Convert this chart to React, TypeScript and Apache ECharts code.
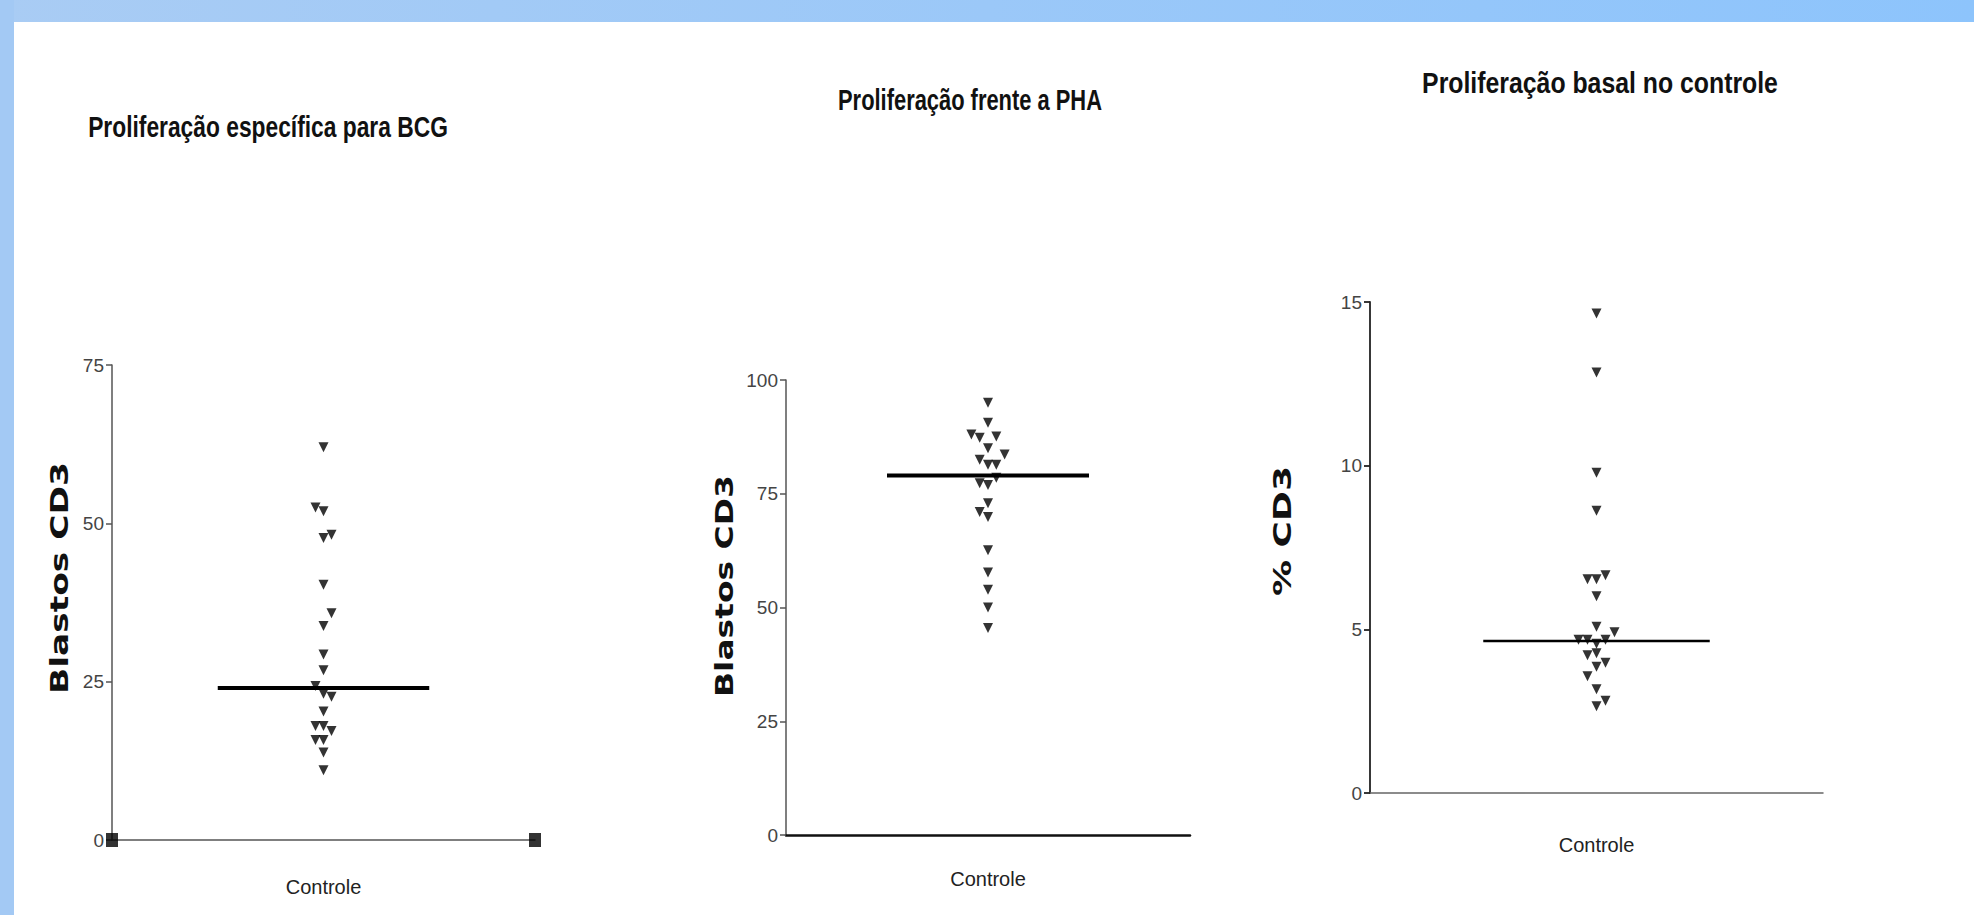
import { useEffect, useRef } from "react";
import * as echarts from "echarts";

// ---------- data ----------
const categoryLabel = "Controle";
const titles = [
  "Proliferação específica para BCG",
  "Proliferação frente a PHA",
  "Proliferação basal no controle",
];
const yAxisNames = ["Blastos CD3", "Blastos CD3", "% CD3"];

const bcgTicks = [0, 25, 50, 75];
const bcgValues = [62, 52.5, 51.9, 48.2, 47.7, 40.3, 35.8, 33.8, 29.3, 26.8, 24.3, 23.1, 22.6, 20.3, 18.0, 18.0, 17.2, 15.8, 15.8, 13.8, 11.0];
const bcgColumns = [0, -1, 0, 1, 0, 0, 1, 0, 0, 0, -1, 0, 1, 0, -1, 0, 1, -1, 0, 0, 0];
const bcgMean = 24;
const bcgAxisEnds = [-1, 1];

const phaTicks = [0, 25, 50, 75, 100];
const phaValues = [95.0, 90.6, 88.0, 87.3, 87.6, 85.0, 83.6, 82.5, 81.4, 81.4, 78.5, 77.3, 76.9, 72.9, 71.0, 69.9, 62.6, 57.7, 53.9, 50.0, 45.5];
const phaColumns = [0, 0, -2, -1, 1, 0, 2, -1, 0, 1, 1, -1, 0, 0, -1, 0, 0, 0, 0, 0, 0];
const phaMean = 79;

const basalTicks = [0, 5, 10, 15];
const basalValues = [14.65, 12.85, 9.78, 8.62, 6.53, 6.53, 6.65, 6.01, 5.08, 4.91, 4.68, 4.68, 4.68, 4.56, 4.27, 4.21, 3.98, 3.86, 3.57, 3.17, 2.82, 2.65];
const basalColumns = [0, 0, 0, 0, -1, 0, 1, 0, 0, 2, -2, -1, 1, 0, 0, -1, 1, 0, -1, 0, 1, 0];
const basalMean = 4.64;

// ---------- layout ----------
const W = 1974;
const H = 915;
const grids = [
  { left: 112, top: 365, width: 423, height: 475 },
  { left: 786, top: 380, width: 404, height: 455 },
  { left: 1370, top: 302, width: 453, height: 491 },
];
const columnPx = [8, 8.3, 9];
const meanWidth = [4, 4, 2.5];
const titlePos = [
  { x: 268, y: 127, w: 360 },
  { x: 970, y: 100, w: 264 },
  { x: 1600, y: 83, w: 356 },
];
const yNamePos = [
  { x: 60, y: 578, w: 232 },
  { x: 725, y: 586, w: 222 },
  { x: 1283, y: 531, w: 130 },
];

const LABEL_FONT = "'Liberation Sans', Arial, sans-serif";

function measure(text: string, font: string): number {
  const c = document.createElement("canvas").getContext("2d");
  if (!c) return text.length * 10;
  c.font = font;
  return c.measureText(text).width;
}

export default function App() {
  const ref = useRef<HTMLDivElement>(null);
  useEffect(() => {
    if (!ref.current) return;
    const chart = echarts.init(ref.current, undefined, { renderer: "svg" });

    const sets = [
      { ticks: bcgTicks, values: bcgValues, cols: bcgColumns, mean: bcgMean },
      { ticks: phaTicks, values: phaValues, cols: phaColumns, mean: phaMean },
      { ticks: basalTicks, values: basalValues, cols: basalColumns, mean: basalMean },
    ];

    const xAxisLine = [
      { color: "#555", width: 1.5 },
      { color: "#111", width: 2.5 },
      { color: "#666", width: 1.5 },
    ];
    const yAxisLine = [
      { color: "#555", width: 1.5 },
      { color: "#555", width: 1.5 },
      { color: "#222", width: 1.8 },
    ];

    const xAxis = sets.map((_, i) => ({
      type: "value",
      gridIndex: i,
      min: -1,
      max: 1,
      name: categoryLabel,
      nameLocation: "middle",
      nameGap: [37, 34, 42][i],
      nameTextStyle: { fontFamily: LABEL_FONT, fontSize: 20, color: "#222" },
      axisLine: { show: true, onZero: false, lineStyle: xAxisLine[i] },
      axisTick: { show: false },
      axisLabel: { show: false },
      splitLine: { show: false },
    }));

    const yAxis = sets.map((s, i) => ({
      type: "value",
      gridIndex: i,
      min: s.ticks[0],
      max: s.ticks[s.ticks.length - 1],
      interval: s.ticks[1] - s.ticks[0],
      axisLine: { show: true, onZero: false, lineStyle: yAxisLine[i] },
      axisTick: { show: true, length: 6, lineStyle: yAxisLine[i] },
      axisLabel: { fontFamily: LABEL_FONT, fontSize: 19, color: "#444", margin: 8 },
      splitLine: { show: false },
    }));

    const series: any[] = [];
    sets.forEach((s, i) => {
      const half = grids[i].width / 2;
      const step = columnPx[i] / half;
      series.push({
        type: "scatter",
        xAxisIndex: i,
        yAxisIndex: i,
        symbol: "triangle",
        symbolRotate: 180,
        symbolSize: [10, 10],
        itemStyle: { color: "#000" },
        data: s.values.map((v, k) => [s.cols[k] * step, v]),
        z: 3,
      });
      series.push({
        type: "line",
        xAxisIndex: i,
        yAxisIndex: i,
        symbol: "none",
        lineStyle: { color: "#000", width: meanWidth[i] },
        data: [
          [-0.5, s.mean],
          [0.5, s.mean],
        ],
        z: 4,
      });
    });
    // black squares at both ends of the first chart's x axis
    series.push({
      type: "scatter",
      xAxisIndex: 0,
      yAxisIndex: 0,
      symbol: "rect",
      symbolSize: [12, 14],
      itemStyle: { color: "#000" },
      data: bcgAxisEnds.map((x) => [x, bcgTicks[0]]),
      clip: false,
      z: 5,
    });

    const graphic: any[] = [
      {
        type: "rect",
        shape: { x: 0, y: 0, width: W, height: 22 },
        style: {
          fill: {
            type: "linear",
            x: 0,
            y: 0,
            x2: 1,
            y2: 0,
            colorStops: [
              { offset: 0, color: "#a9ccf4" },
              { offset: 1, color: "#8dc4fc" },
            ],
          },
        },
        silent: true,
      },
      {
        type: "rect",
        shape: { x: 0, y: 0, width: 14, height: H },
        style: { fill: "#a3c9f4" },
        silent: true,
      },
    ];

    const titleFont = "bold 29px 'Liberation Sans'";
    titles.forEach((t, i) => {
      const p = titlePos[i];
      const w = measure(t, titleFont);
      graphic.push({
        type: "text",
        x: p.x,
        y: p.y,
        scaleX: p.w / w,
        style: {
          text: t,
          fontSize: 29,
          fontWeight: "bold",
          fontFamily: "'Liberation Sans'",
          fill: "#111",
          align: "center",
          verticalAlign: "middle",
        },
      });
    });

    const yFont = "bold 24px 'DejaVu Sans'";
    yAxisNames.forEach((t, i) => {
      const p = yNamePos[i];
      const w = measure(t, yFont);
      graphic.push({
        type: "text",
        x: p.x,
        y: p.y,
        rotation: Math.PI / 2,
        scaleX: p.w / w,
        style: {
          text: t,
          fontSize: 24,
          fontWeight: "bold",
          fontFamily: "'DejaVu Sans'",
          fill: "#111",
          align: "center",
          verticalAlign: "middle",
        },
      });
    });

    chart.setOption({
      animation: false,
      backgroundColor: "#ffffff",
      grid: grids.map((g) => ({ ...g, containLabel: false })),
      xAxis,
      yAxis,
      series,
      graphic,
    });

    return () => chart.dispose();
  }, []);

  return (
    <div
      ref={ref}
      style={{ position: "fixed", left: 0, top: 0, width: W, height: H }}
    />
  );
}
